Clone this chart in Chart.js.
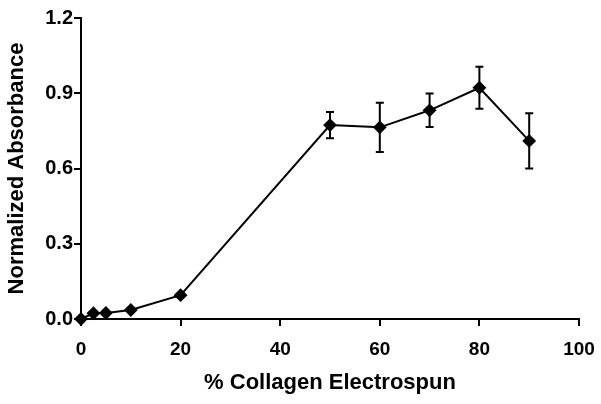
<!DOCTYPE html>
<html>
<head>
<meta charset="utf-8">
<style>
  html, body { margin: 0; padding: 0; background: #fff; }
  #wrap { position: relative; width: 601px; height: 404px; }
</style>
</head>
<body>
<div id="wrap"><canvas id="absChart" width="601" height="404"></canvas></div>
<script src="https://cdn.jsdelivr.net/npm/chart.js@4.4.1/dist/chart.umd.min.js"></script>
<script>
var collagenPct = [0, 2.5, 5, 10, 20, 50, 60, 70, 80, 90];
var absorbance = [0.0, 0.023, 0.024, 0.036, 0.095, 0.773, 0.764, 0.832, 0.922, 0.71];
var errAbs = [0, 0, 0, 0, 0, 0.052, 0.098, 0.067, 0.084, 0.11];

var points = collagenPct.map(function (x, i) {
    return {x: x, y: absorbance[i]};
});

// vertical error bars with caps
var errorBars = {
    id: 'errorBars',
    afterDatasetsDraw: function (chart) {
        var ctx = chart.ctx;
        var xs = chart.scales.x, ys = chart.scales.y;
        ctx.save();
        ctx.strokeStyle = '#000';
        ctx.lineWidth = 2;
        points.forEach(function (p, i) {
            if (!errAbs[i]) return;
            var px = xs.getPixelForValue(p.x);
            var top = ys.getPixelForValue(p.y + errAbs[i]);
            var bot = ys.getPixelForValue(p.y - errAbs[i]);
            ctx.beginPath();
            ctx.moveTo(px, top); ctx.lineTo(px, bot);
            ctx.moveTo(px - 4, top); ctx.lineTo(px + 4, top);
            ctx.moveTo(px - 4, bot); ctx.lineTo(px + 4, bot);
            ctx.stroke();
        });
        ctx.restore();
    }
};

var fam = 'Liberation Sans, Arial, sans-serif';
var xTickFont = {family: fam, size: 19, weight: 'bold'};
var yTickFont = {family: fam, size: 20, weight: 'bold'};
var titleFont = {family: fam, size: 22, weight: 'bold'};

var chart = new Chart(document.getElementById('absChart'), {
    type: 'scatter',
    data: {
        datasets: [{
            data: points,
            showLine: true,
            borderColor: '#000',
            borderWidth: 2,
            backgroundColor: '#000',
            pointStyle: 'rectRot',
            pointRadius: 5.5,
            pointHoverRadius: 5.5,
            clip: false
        }]
    },
    options: {
        responsive: false,
        animation: false,
        layout: {padding: {top: 18, right: 22, bottom: 8, left: 0}},
        plugins: {legend: {display: false}, tooltip: {enabled: false}},
        scales: {
            x: {
                type: 'linear', min: 0, max: 100,
                ticks: {stepSize: 20, color: '#000', font: xTickFont, padding: 12},
                grid: {drawOnChartArea: false, color: '#000', lineWidth: 2, tickLength: 7},
                border: {color: '#000', width: 2},
                title: {display: true, text: '% Collagen Electrospun', color: '#000', font: titleFont, padding: {top: 0, bottom: 0}},
                afterFit: function (s) { s.height = 77; s.paddingLeft = 0; s.paddingRight = 0; }
            },
            y: {
                min: 0, max: 1.2,
                ticks: {stepSize: 0.3, color: '#000', font: yTickFont, padding: 1,
                    callback: function (v) { return v.toFixed(1); }},
                grid: {drawOnChartArea: false, color: '#000', lineWidth: 2, tickLength: 7},
                border: {color: '#000', width: 2},
                title: {display: true, text: 'Normalized Absorbance', color: '#000', font: titleFont, padding: {top: 4, bottom: 0}},
                afterFit: function (s) { s.width = 81; s.paddingTop = 0; s.paddingBottom = 0; }
            }
        }
    },
    plugins: [errorBars]
});
</script>
</body>
</html>
